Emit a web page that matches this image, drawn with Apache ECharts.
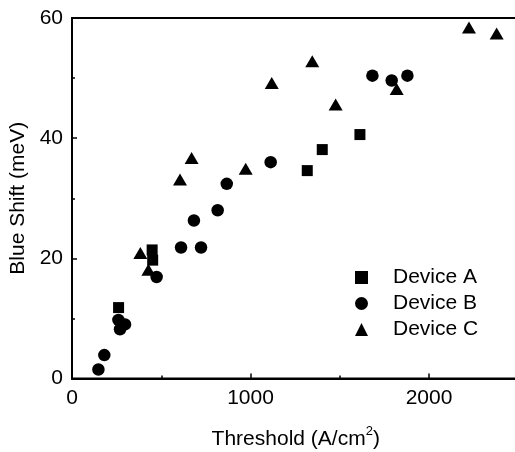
<!DOCTYPE html>
<html lang="en">
<head>
    <meta charset="UTF-8">
    <title>Blue shift vs threshold</title>
    <script src="https://cdn.jsdelivr.net/npm/echarts@6/dist/echarts.min.js"></script>
    <style>
        html, body { margin: 0; padding: 0; background: #fff; }
        #chart { width: 515px; height: 452px; }
    </style>
</head>
<body>
<div id="chart"></div>
<script>
    // values
    var xA = [261, 449, 452, 1318, 1402, 1613];
    var yA = [11.8, 21.4, 19.7, 34.6, 38.1, 40.6];

    var xB = [148, 181, 260, 269, 297, 474, 611, 683, 723, 816, 867, 1113, 1683, 1791, 1879];
    var yB = [1.5, 3.9, 9.75, 8.2, 9.0, 16.9, 21.8, 26.3, 21.8, 28.0, 32.4, 36.0, 50.4, 49.6, 50.4];

    var xC = [383, 428, 605, 670, 973, 1119, 1346, 1477, 1819, 2224, 2379];
    var yC = [20.9, 18.1, 33.1, 36.7, 34.9, 49.2, 52.8, 45.6, 48.2, 58.4, 57.4];

    var names = ['Device A', 'Device B', 'Device C'];

    function pairs(xs, ys) {
        var out = [];
        for (var i = 0; i < xs.length; i++) out.push([xs[i], ys[i]]);
        return out;
    }

    var font = "'Liberation Sans', Arial, Helvetica, sans-serif";
    var myChart = echarts.init(document.getElementById('chart'));

    // the plot runs off the right edge of the picture, so the axis goes to 3000
    // and the x name is pushed back to the visible middle with padding
    myChart.setOption({
        animation: false,
        backgroundColor: '#fff',
        textStyle: { fontFamily: font, color: '#000' },
        grid: {
            left: 72, top: 18, bottom: 73.5, right: -92.5,
            containLabel: false, outerBoundsMode: 'none',
            show: true, borderColor: '#000', borderWidth: 2, backgroundColor: 'transparent'
        },
        legend: {
            orient: 'vertical',
            left: 350, top: 262,
            itemWidth: 13, itemHeight: 13, itemGap: 5,
            textStyle: { fontSize: 21, color: '#000', fontFamily: font, padding: [0, 0, 0, 20] },
            data: [
                { name: names[0], icon: 'rect' },
                { name: names[1], icon: 'circle' },
                { name: names[2], icon: 'triangle' }
            ]
        },
        xAxis: {
            type: 'value', min: 0, max: 3000, interval: 1000,
            name: '{a|Threshold (A/cm}{s|2}{a|)}',
            nameLocation: 'middle', nameGap: 46,
            nameTextStyle: {
                padding: [0, 88, 0, 0],
                rich: {
                    a: { fontSize: 21, fontFamily: font, color: '#000', padding: [4, 0, 0, 0], verticalAlign: 'bottom' },
                    s: { fontSize: 13, fontFamily: font, color: '#000', verticalAlign: 'top' }
                }
            },
            axisLine: { lineStyle: { color: '#000', width: 2 } },
            axisTick: { inside: true, length: 5, lineStyle: { color: '#000', width: 1.5 } },
            minorTick: { show: true, splitNumber: 2, length: 3, lineStyle: { color: '#000', width: 1.5 } },
            axisLabel: { fontSize: 21, color: '#000', margin: 9, fontFamily: font,
                formatter: function (v) { return String(v); } },
            splitLine: { show: false }
        },
        yAxis: {
            type: 'value', min: 0, max: 60, interval: 20,
            name: 'Blue Shift (meV)',
            nameLocation: 'middle', nameGap: 40,
            nameTextStyle: { fontSize: 21, color: '#000', fontFamily: font },
            axisLine: { show: true, lineStyle: { color: '#000', width: 2 } },
            axisTick: { show: true, inside: true, length: 5, lineStyle: { color: '#000', width: 1.5 } },
            minorTick: { show: true, splitNumber: 2, length: 3, lineStyle: { color: '#000', width: 1.5 } },
            axisLabel: { fontSize: 21, color: '#000', margin: 9, fontFamily: font },
            splitLine: { show: false }
        },
        series: [
            { name: names[0], type: 'scatter', symbol: 'rect', symbolSize: 11,
              itemStyle: { color: '#000', opacity: 1 }, data: pairs(xA, yA) },
            { name: names[1], type: 'scatter', symbol: 'circle', symbolSize: 12.5,
              itemStyle: { color: '#000', opacity: 1 }, data: pairs(xB, yB) },
            { name: names[2], type: 'scatter', symbol: 'triangle', symbolSize: [14, 12],
              itemStyle: { color: '#000', opacity: 1 }, data: pairs(xC, yC) }
        ]
    });
</script>
</body>
</html>
